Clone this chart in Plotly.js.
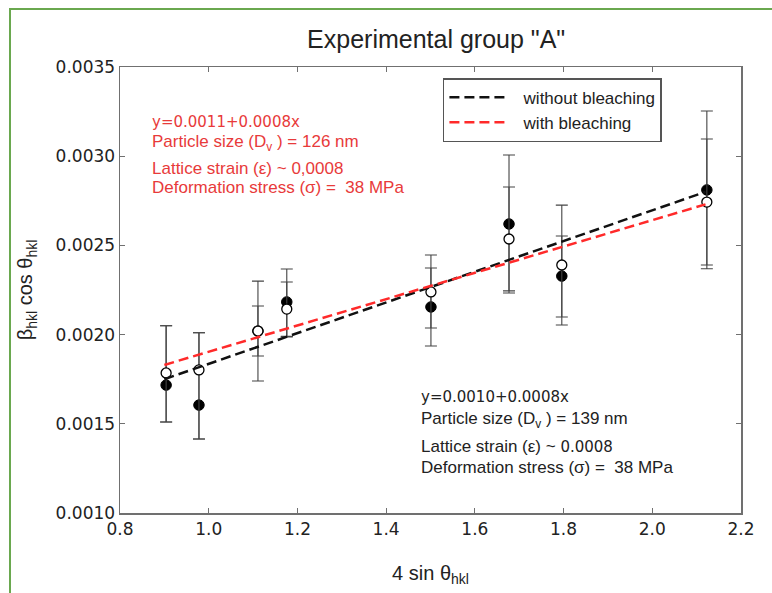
<!DOCTYPE html>
<html>
<head>
<meta charset="utf-8">
<script src="https://cdn.plot.ly/plotly-3.0.1.min.js"></script>
<style>
  html, body { margin: 0; padding: 0; background: #fff; }
  #wrap { position: relative; width: 772px; height: 593px; overflow: hidden; }
  #frame { position: absolute; left: 9px; top: 8px; width: 800px; height: 700px;
           border-top: 2px solid #6aa84f; border-left: 2px solid #6aa84f; pointer-events: none; z-index: 5; }
  #chart { position: absolute; left: 0; top: 0; width: 772px; height: 593px; }
</style>
</head>
<body>
<div id="wrap">
  <div id="chart"></div>
  <div id="frame"></div>
</div>
<script>
// ---- data ----
const xVals = [0.904, 0.978, 1.111, 1.176, 1.501, 1.677, 1.796, 2.123];

const withoutY        = [0.001717, 0.001605, 0.00202, 0.002183, 0.002155, 0.00262, 0.002328, 0.002811];
const withoutErrPlus  = [0.000333, 0.000405, 0.00014, 0.000185, 0.000218, 0.000387, 0.000225, 0.000442];
const withoutErrMinus = [0.000207, 0.00019, 0.00014, 0.000196, 0.000219, 0.000387, 0.000229, 0.000442];

const withY        = [0.001785, 0.001802, 0.00202, 0.002143, 0.002239, 0.002536, 0.00239, 0.002743];
const withErrPlus  = [0.000265, 0.000208, 0.00028, 0.000152, 0.000207, 0.000291, 0.000336, 0.000353];
const withErrMinus = [0.000275, 0.000387, 0.00028, 0.000153, 0.000202, 0.000291, 0.000336, 0.000353];

const fitX       = [0.9, 2.12];
const fitWithout = [0.00175, 0.00280];
const fitWith    = [0.00183, 0.00273];

const xTicks = [0.8, 1.0, 1.2, 1.4, 1.6, 1.8, 2.0, 2.2];
const yTicks = [0.0010, 0.0015, 0.0020, 0.0025, 0.0030, 0.0035];

const seriesNames = ['without bleaching', 'with bleaching'];
const redText = ['y=0.0011+0.0008x', 'Particle size (D<sub>v</sub> ) = 126 nm', 'Lattice strain (ε) ~ 0,0008', 'Deformation stress (σ) =  38 MPa'];
const blackText = ['y=0.0010+0.0008x', 'Particle size (D<sub>v</sub> ) = 139 nm', 'Lattice strain (ε) ~ <span style="font-family:DejaVu Sans;font-size:15px">0.0008</span>', 'Deformation stress (σ) =  38 MPa'];

// ---- styling ----
const ARIAL = 'Liberation Sans, Arial, sans-serif';
const DEJAVU = 'DejaVu Sans, Verdana, sans-serif';
const RED = '#e83a3a';
const TXT = '#222';
const AXC = '#707070';
const NB = '\u00A0\u00A0\u00A0';

const traces = [
  {
    x: xVals, y: withoutY, type: 'scatter', mode: 'markers', showlegend: false,
    marker: { symbol: 'circle', size: 10.5, color: '#000', line: { color: '#000', width: 1 } },
    error_y: { type: 'data', symmetric: false, array: withoutErrPlus, arrayminus: withoutErrMinus,
               color: '#444', thickness: 1.1, width: 6 }
  },
  {
    x: xVals, y: withY, type: 'scatter', mode: 'markers', showlegend: false,
    marker: { symbol: 'circle', size: 10, color: '#fff', line: { color: '#000', width: 1.3 } },
    error_y: { type: 'data', symmetric: false, array: withErrPlus, arrayminus: withErrMinus,
               color: '#444', thickness: 1.1, width: 6 }
  },
  {
    x: fitX, y: fitWithout, type: 'scatter', mode: 'lines', name: NB + seriesNames[0],
    line: { color: '#111', width: 2.5, dash: '10px,5px' }
  },
  {
    x: fitX, y: fitWith, type: 'scatter', mode: 'lines', name: NB + seriesNames[1],
    line: { color: '#ff2a2a', width: 2.5, dash: '10px,5px' }
  }
];

const redY = [0.8756, 0.8303, 0.7735, 0.7287];
const blackY = [0.2601, 0.2085, 0.148, 0.1031];
const annotations = [];
redText.forEach((t, i) => annotations.push({
  xref: 'paper', yref: 'paper', x: 0.049, y: redY[i], xanchor: 'left', yanchor: 'middle',
  text: t, showarrow: false,
  font: { family: i === 0 ? DEJAVU : ARIAL, size: i === 0 ? 15 : 17, color: RED }
}));
blackText.forEach((t, i) => annotations.push({
  xref: 'paper', yref: 'paper', x: 0.482, y: blackY[i], xanchor: 'left', yanchor: 'middle',
  text: t, showarrow: false,
  font: { family: i === 0 ? DEJAVU : ARIAL, size: i === 0 ? 15 : 17, color: TXT }
}));

const layout = {
  width: 772, height: 593,
  margin: { l: 120, r: 31, t: 67, b: 80 },
  paper_bgcolor: '#fff', plot_bgcolor: '#fff',
  title: {
    text: 'Experimental group "A"',
    font: { family: ARIAL, size: 25, color: TXT },
    xref: 'container', x: 0.565, xanchor: 'center',
    yref: 'container', y: 0.933, yanchor: 'middle'
  },
  xaxis: {
    range: [0.8, 2.2], tickvals: xTicks, ticktext: xTicks.map(v => v.toFixed(1)),
    showgrid: false, zeroline: false,
    showline: true, linecolor: AXC, linewidth: 1.5, mirror: 'ticks',
    ticks: 'inside', ticklen: 5, tickcolor: AXC, tickwidth: 1,
    tickfont: { family: DEJAVU, size: 17, color: TXT },
    title: { text: '4 sin θ<sub>hkl</sub>', font: { family: ARIAL, size: 20, color: TXT }, standoff: 28 }
  },
  yaxis: {
    range: [0.0010, 0.0035], tickvals: yTicks, ticktext: yTicks.map(v => v.toFixed(4)),
    showgrid: false, zeroline: false,
    showline: true, linecolor: AXC, linewidth: 1.5, mirror: 'ticks',
    ticks: 'inside', ticklen: 5, tickcolor: AXC, tickwidth: 1,
    tickfont: { family: DEJAVU, size: 17, color: TXT },
    title: { text: 'β<sub>hkl</sub> cos θ<sub>hkl</sub>', font: { family: ARIAL, size: 20, color: TXT }, standoff: 17 }
  },
  legend: {
    x: 0.52, y: 0.975, xanchor: 'left', yanchor: 'top',
    bgcolor: '#fff', bordercolor: '#555', borderwidth: 1.5,
    font: { family: ARIAL, size: 17, color: TXT },
    itemwidth: 55
  },
  annotations: annotations,
  showlegend: true
};

Plotly.newPlot('chart', traces, layout, { displayModeBar: false, staticPlot: true });
</script>
</body>
</html>
